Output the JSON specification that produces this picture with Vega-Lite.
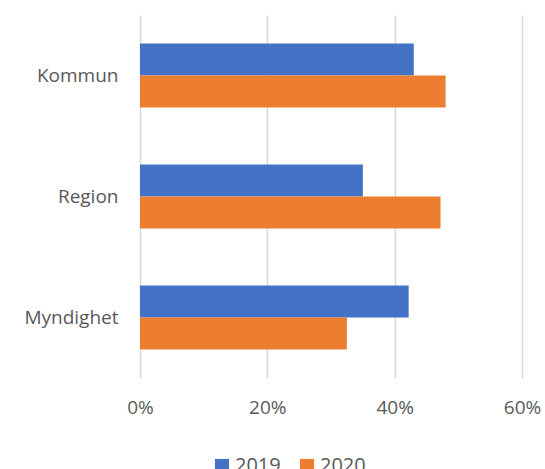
{
  "$schema": "https://vega.github.io/schema/vega-lite/v6.json",
  "width": 382,
  "height": 363,
  "autosize": {"type": "none"},
  "padding": {"left": 140, "top": 15, "right": 23, "bottom": 91},
  "background": "white",
  "config": {"view": {"stroke": null}, "font": "Open Sans"},
  "data": {
    "values": [
      {"kategori": "Kommun", "år": "2019", "andel": 0.43},
      {"kategori": "Kommun", "år": "2020", "andel": 0.48},
      {"kategori": "Region", "år": "2019", "andel": 0.35},
      {"kategori": "Region", "år": "2020", "andel": 0.472},
      {"kategori": "Myndighet", "år": "2019", "andel": 0.422},
      {"kategori": "Myndighet", "år": "2020", "andel": 0.325}
    ]
  },
  "mark": {"type": "bar"},
  "encoding": {
    "y": {
      "field": "kategori",
      "type": "nominal",
      "sort": ["Kommun", "Region", "Myndighet"],
      "scale": {"paddingInner": 0.47, "paddingOuter": 0.235},
      "axis": {
        "title": null,
        "domain": false,
        "ticks": false,
        "labelPadding": 22,
        "labelFontSize": 19,
        "labelColor": "#595959",
        "labelFont": "Open Sans"
      }
    },
    "yOffset": {"field": "år", "type": "nominal", "sort": ["2019", "2020"], "scale": {"paddingInner": 0, "paddingOuter": 0}},
    "x": {
      "field": "andel",
      "type": "quantitative",
      "scale": {"domain": [0, 0.6], "nice": false},
      "axis": {
        "title": null,
        "format": ".0%",
        "values": [0, 0.2, 0.4, 0.6],
        "domain": false,
        "ticks": false,
        "grid": true,
        "gridColor": "#d9d9d9",
        "gridWidth": 1.5,
        "labelFlush": false,
        "labelAlign": "center",
        "labelPadding": 20,
        "labelFontSize": 19,
        "labelColor": "#595959",
        "labelFont": "Open Sans"
      }
    },
    "color": {
      "field": "år",
      "type": "nominal",
      "scale": {"domain": ["2019", "2020"], "range": ["#4472C4", "#ED7D31"]},
      "legend": {
        "title": null,
        "orient": "none",
        "legendX": 72,
        "legendY": 441,
        "direction": "horizontal",
        "symbolType": "square",
        "symbolSize": 200,
        "symbolStrokeWidth": 0,
        "labelFontSize": 20,
        "labelColor": "#595959",
        "labelFont": "Open Sans",
        "columnPadding": 16,
        "labelOffset": 3
      }
    }
  }
}
